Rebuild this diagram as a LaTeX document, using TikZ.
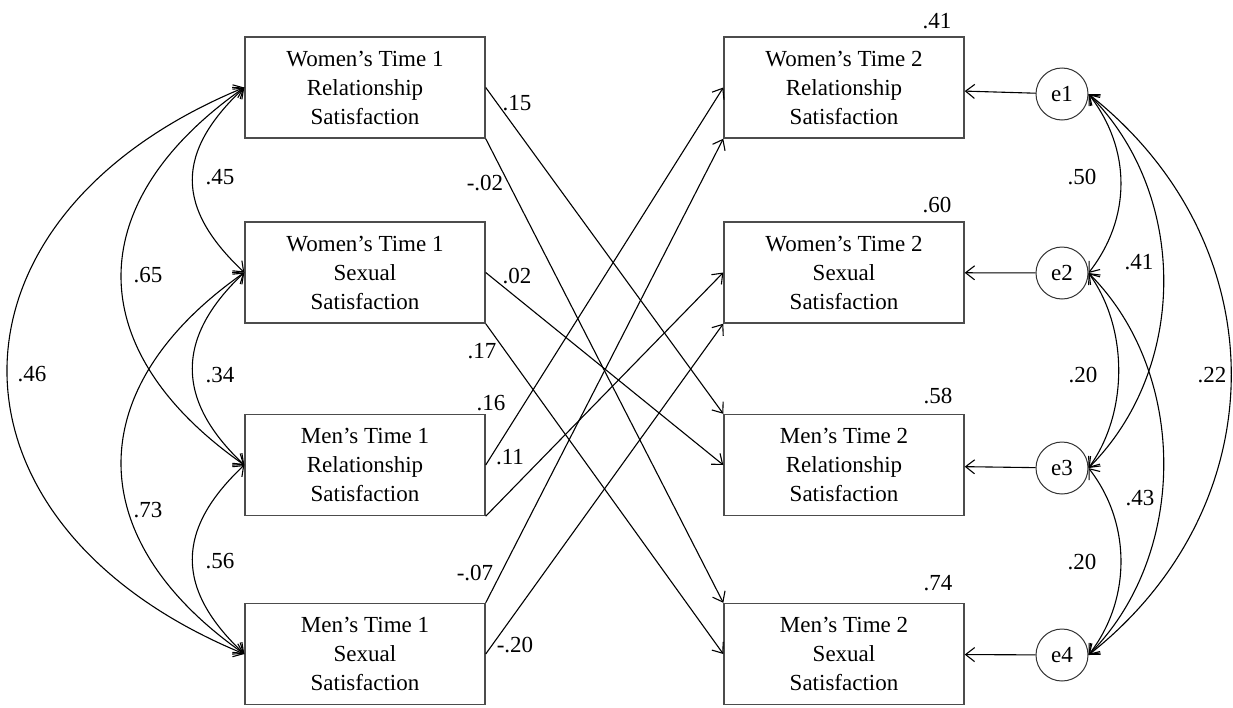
\documentclass[tikz,border=0pt]{standalone}
\usepackage{fontspec}
\setmainfont{Liberation Serif}
\usetikzlibrary{arrows.meta,calc}
\begin{document}
\begin{tikzpicture}[x=1pt,y=-1pt, font=\fontsize{23}{29}\selectfont,
  box/.style={draw=black!70, line width=1.4pt, minimum width=240pt, minimum height=101pt, align=center, inner sep=0pt},
  errc/.style={circle, draw=black!80, line width=1pt, minimum size=52pt, inner sep=0pt},
  lbl/.style={inner sep=0pt},
  conn/.style={line width=1.1pt, -{Straight Barb[length=9pt,width=14pt]}},
  cov/.style={line width=1.1pt, {Straight Barb[length=9pt,width=14pt]}-{Straight Barb[length=9pt,width=14pt]}}]
\useasboundingbox (0,0) rectangle (1233,707);
% left boxes
\node[box] (L1) at (365,87.5) {Women’s Time 1\\Relationship\\Satisfaction};
\node[box] (L2) at (365,272.5) {Women’s Time 1\\Sexual\\Satisfaction};
\node[box] (L3) at (365,465) {Men’s Time 1\\Relationship\\Satisfaction};
\node[box] (L4) at (365,654) {Men’s Time 1\\Sexual\\Satisfaction};
% right boxes
\node[box] (R1) at (844,87.5) {Women’s Time 2\\Relationship\\Satisfaction};
\node[box] (R2) at (844,272.5) {Women’s Time 2\\Sexual\\Satisfaction};
\node[box] (R3) at (844,465) {Men’s Time 2\\Relationship\\Satisfaction};
\node[box] (R4) at (844,654) {Men’s Time 2\\Sexual\\Satisfaction};
% error terms
\node[errc] (e1) at (1062,94) {e1};
\node[errc] (e2) at (1062,273) {e2};
\node[errc] (e3) at (1062,468) {e3};
\node[errc] (e4) at (1062,655) {e4};
\draw[conn] (e1) -- (R1);
\draw[conn] (e2) -- (R2);
\draw[conn] (e3) -- (R3);
\draw[conn] (e4) -- (R4);
% paths
\draw[conn] (L1.east) -- (R3.north west);
\draw[conn] (L1.south east) -- (R4.north west);
\draw[conn] (L2.east) -- (R3.west);
\draw[conn] (L2.south east) -- (R4.west);
\draw[conn] (L3.east) -- (R1.west);
\draw[conn] (L3.south east) -- (R2.west);
\draw[conn] (L4.north east) -- (R1.south west);
\draw[conn] (L4.east) -- (R2.south west);
% path labels
\node[lbl] (p1) at (517,103) {.15};
\node[lbl] (p2) at (485,183) {-.02};
\node[lbl] (p3) at (517,276) {.02};
\node[lbl] (p4) at (482,351) {.17};
\node[lbl] (p5) at (491,403) {.16};
\node[lbl] (p6) at (510,457) {.11};
\node[lbl] (p7) at (475,573) {-.07};
\node[lbl] (p8) at (515,645) {-.20};
% R squared
\node[lbl] (r1) at (937,21) {.41};
\node[lbl] (r2) at (937,205) {.60};
\node[lbl] (r3) at (938,396) {.58};
\node[lbl] (r4) at (938,583) {.74};
% left covariances
\draw[cov] (L1.west) .. controls ($(L1.west)+(-69,65)$) and ($(L2.west)+(-69,-65)$) .. (L2.west);
\draw[cov] (L2.west) .. controls ($(L2.west)+(-69,65)$) and ($(L3.west)+(-69,-65)$) .. (L3.west);
\draw[cov] (L3.west) .. controls ($(L3.west)+(-69,65)$) and ($(L4.west)+(-69,-65)$) .. (L4.west);
\draw[cov] (L1.west) .. controls ($(L1.west)+(-164,115)$) and ($(L3.west)+(-164,-115)$) .. (L3.west);
\draw[cov] (L2.west) .. controls ($(L2.west)+(-164,115)$) and ($(L4.west)+(-164,-115)$) .. (L4.west);
\draw[cov] (L1.west) .. controls ($(L1.west)+(-316,130)$) and ($(L4.west)+(-316,-130)$) .. (L4.west);
\node[lbl] (c1) at (220,177) {.45};
\node[lbl] (c2) at (148,275) {.65};
\node[lbl] (c3) at (32,374) {.46};
\node[lbl] (c4) at (220,375) {.34};
\node[lbl] (c5) at (148,510) {.73};
\node[lbl] (c6) at (220,561) {.56};
% right covariances
\draw[cov] (e1.east) .. controls ($(e1.east)+(43,55)$) and ($(e2.east)+(43,-55)$) .. (e2.east);
\draw[cov] (e2.east) .. controls ($(e2.east)+(40,55)$) and ($(e3.east)+(40,-55)$) .. (e3.east);
\draw[cov] (e3.east) .. controls ($(e3.east)+(43,55)$) and ($(e4.east)+(43,-55)$) .. (e4.east);
\draw[cov] (e1.east) .. controls ($(e1.east)+(100,100)$) and ($(e3.east)+(100,-100)$) .. (e3.east);
\draw[cov] (e2.east) .. controls ($(e2.east)+(100,100)$) and ($(e4.east)+(100,-100)$) .. (e4.east);
\draw[cov] (e1.east) .. controls ($(e1.east)+(190,150)$) and ($(e4.east)+(190,-150)$) .. (e4.east);
\node[lbl] (d1) at (1082,177) {.50};
\node[lbl] (d2) at (1139,262) {.41};
\node[lbl] (d3) at (1083,375) {.20};
\node[lbl] (d4) at (1212,375) {.22};
\node[lbl] (d5) at (1140,498) {.43};
\node[lbl] (d6) at (1082,562) {.20};
\end{tikzpicture}
\end{document}
